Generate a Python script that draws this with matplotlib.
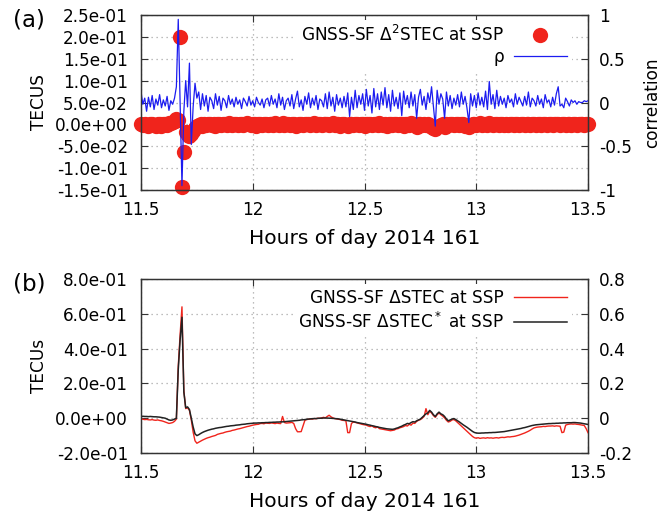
import numpy as np
import matplotlib
matplotlib.use("Agg")
import matplotlib.pyplot as plt
from matplotlib.lines import Line2D

# 30 s samples, 11.5 h .. 13.5 h
hours = np.round(11.5 + np.arange(241) / 120.0, 4)

# (a) second difference of STEC (TECU) and correlation rho
dd_stec = [
    0.000, -0.002, 0.001, -0.001, -0.003, 0.001, 0.000, -0.002, -0.004, 0.001,
    0.000, -0.003, 0.002, 0.000, -0.002, 0.003, 0.004, 0.006, 0.008, 0.012,
    0.010, 0.200, -0.142, -0.063, -0.018, -0.024, -0.026, -0.022, -0.015, -0.008,
    -0.004, -0.002, 0.000, -0.003, 0.001, -0.002, 0.000, 0.002, -0.001, 0.000,
    -0.003, 0.001, 0.000, -0.002, 0.002, 0.000, -0.001, 0.003, 0.000, -0.002,
    0.001, 0.000, -0.002, 0.002, 0.000, -0.001, 0.001, 0.003, 0.000, -0.002,
    0.000, 0.001, -0.003, 0.000, 0.002, -0.001, 0.000, 0.002, -0.002, 0.000,
    0.001, -0.001, 0.003, 0.000, -0.002, 0.001, 0.004, -0.002, 0.000, 0.001,
    -0.002, 0.000, 0.002, -0.003, -0.001, 0.001, 0.000, -0.002, 0.002, 0.000,
    0.001, -0.002, 0.000, 0.003, -0.001, 0.000, 0.002, -0.002, 0.001, 0.000,
    0.002, -0.001, 0.000, 0.003, -0.002, 0.000, 0.001, -0.003, 0.000, 0.002,
    -0.002, -0.004, 0.001, 0.000, -0.002, 0.002, 0.000, -0.001, 0.002, 0.000,
    -0.003, 0.001, 0.000, 0.002, -0.002, 0.000, 0.001, -0.002, 0.003, 0.000,
    -0.001, 0.002, -0.003, 0.000, 0.002, -0.002, 0.000, 0.001, -0.002, 0.000,
    0.002, -0.004, 0.000, 0.001, -0.002, 0.003, 0.000, -0.002, -0.005, 0.001,
    0.000, -0.002, 0.002, -0.001, 0.000, -0.003, -0.006, -0.009, -0.010, -0.007,
    -0.004, -0.002, 0.000, -0.005, 0.001, -0.002, 0.000, 0.002, -0.001, 0.000,
    0.001, -0.002, 0.000, 0.002, -0.003, -0.004, -0.006, -0.002, 0.000, 0.001,
    -0.002, 0.000, 0.003, -0.001, 0.000, 0.002, -0.002, 0.003, 0.000, -0.001,
    0.001, 0.000, -0.002, 0.002, 0.000, -0.001, 0.001, -0.002, 0.000, 0.002,
    -0.001, 0.000, 0.002, -0.002, 0.000, 0.001, -0.001, 0.002, 0.000, -0.002,
    0.001, 0.000, -0.002, 0.002, 0.000, -0.001, 0.002, 0.000, -0.001, 0.001,
    0.000, -0.002, 0.001, 0.000, 0.002, -0.002, 0.000, 0.001, -0.001, 0.000,
    0.002, -0.001, 0.000, 0.001, -0.002, 0.000, 0.001, 0.000, -0.001, 0.000, 0.000,
]

rho = [
    0.12, -0.02, 0.05, -0.10, 0.06, -0.05, 0.08, -0.08, 0.04, -0.03,
    0.09, -0.06, 0.03, -0.04, 0.07, -0.09, 0.02, -0.02, 0.05, 0.18,
    0.95, 0.00, -0.95, -0.10, 0.25, -0.05, 0.45, -0.48, -0.05, 0.22,
    0.05, 0.12, -0.08, 0.10, -0.04, 0.08, -0.10, 0.06, 0.02, -0.07,
    0.10, -0.03, 0.07, -0.09, 0.05, 0.02, -0.06, 0.08, -0.02, 0.04,
    -0.05, 0.06, -0.02, 0.03, -0.07, 0.05, 0.01, -0.04, 0.07, -0.03,
    0.02, -0.05, 0.06, 0.00, -0.03, 0.04, -0.06, 0.03, 0.05, -0.04,
    0.08, -0.02, 0.04, -0.06, 0.10, -0.03, 0.06, -0.08, 0.02, 0.05,
    -0.04, 0.09, -0.07, 0.04, 0.13, -0.05, 0.03, -0.09, 0.07, -0.02,
    0.11, -0.06, 0.05, -0.03, 0.08, -0.08, 0.04, 0.02, -0.05, 0.10,
    -0.07, 0.12, -0.04, 0.06, -0.10, 0.09, -0.03, 0.05, -0.06, 0.07,
    -0.05, 0.11, -0.16, 0.06, -0.08, 0.14, -0.06, 0.08, -0.02, 0.10,
    -0.09, 0.15, -0.04, 0.08, -0.12, 0.16, -0.05, 0.10, -0.08, 0.12,
    -0.03, 0.17, -0.06, 0.09, -0.10, 0.14, -0.04, 0.06, -0.07, 0.11,
    -0.15, 0.13, -0.02, 0.08, -0.06, 0.12, -0.04, 0.09, -0.18, 0.06,
    0.15, -0.03, 0.07, -0.08, 0.11, 0.00, 0.18, -0.05, -0.27, 0.14,
    -0.02, 0.10, 0.04, -0.18, 0.12, -0.04, 0.08, -0.07, 0.05, -0.03,
    0.09, -0.05, 0.12, -0.02, 0.07, -0.06, -0.23, 0.10, -0.04, 0.08,
    -0.06, 0.11, -0.03, 0.06, -0.05, 0.13, -0.08, 0.24, -0.02, 0.09,
    -0.07, 0.14, -0.04, 0.07, -0.02, 0.05, -0.06, 0.08, 0.00, 0.04,
    -0.05, 0.10, -0.02, 0.06, 0.01, -0.04, 0.07, -0.03, 0.12, -0.05,
    0.05, 0.02, -0.04, 0.08, -0.02, 0.04, -0.06, 0.09, 0.00, 0.03,
    -0.05, 0.06, -0.03, 0.10, 0.18, -0.04, -0.02, -0.06, 0.05, 0.01,
    -0.04, 0.03, 0.00, 0.02, -0.02, 0.01, 0.00, 0.00, 0.02, 0.01, 0.02,
]

# (b) STEC variation, raw and corrected (TECU)
d_stec = [
    -0.005, -0.006, -0.008, -0.007, -0.009, -0.010, -0.008, -0.011, -0.012, -0.010,
    -0.013, -0.015, -0.018, -0.022, -0.026, -0.030, -0.028, -0.025, -0.018, -0.005,
    0.30, 0.48, 0.64, 0.16, 0.055, 0.060, 0.045, -0.010, -0.080, -0.130,
    -0.144, -0.138, -0.132, -0.126, -0.121, -0.116, -0.112, -0.109, -0.105, -0.102,
    -0.099, -0.093, -0.090, -0.087, -0.085, -0.081, -0.078, -0.076, -0.074, -0.070,
    -0.068, -0.065, -0.062, -0.060, -0.057, -0.054, -0.051, -0.048, -0.046, -0.043,
    -0.040, -0.038, -0.036, -0.035, -0.031, -0.030, -0.032, -0.028, -0.029, -0.030,
    -0.027, -0.029, -0.031, -0.028, -0.030, -0.031, 0.010, -0.025, -0.028, -0.027,
    -0.026, -0.024, -0.030, -0.060, -0.078, -0.078, -0.077, -0.045, -0.012, -0.008,
    -0.006, -0.004, -0.005, -0.002, -0.003, 0.000, -0.001, 0.002, 0.005, 0.002,
    0.010, 0.017, 0.008, 0.002, -0.002, -0.004, -0.006, -0.008, -0.012, -0.013,
    -0.015, -0.083, -0.083, -0.030, -0.022, -0.024, -0.027, -0.030, -0.033, -0.036,
    -0.038, -0.040, -0.045, -0.048, -0.043, -0.052, -0.055, -0.050, -0.060, -0.062,
    -0.064, -0.066, -0.068, -0.070, -0.072, -0.070, -0.068, -0.062, -0.060, -0.055,
    -0.052, -0.048, -0.042, -0.045, -0.035, -0.040, -0.028, -0.030, -0.018, -0.012,
    -0.008, 0.000, 0.010, 0.055, 0.020, 0.040, 0.030, 0.015, 0.005, 0.020,
    0.030, 0.020, 0.012, 0.002, -0.012, -0.022, -0.018, -0.010, -0.008, -0.015,
    -0.025, -0.035, -0.045, -0.055, -0.065, -0.075, -0.085, -0.095, -0.105, -0.112,
    -0.115, -0.112, -0.116, -0.114, -0.113, -0.115, -0.112, -0.114, -0.113, -0.115,
    -0.113, -0.112, -0.114, -0.111, -0.110, -0.111, -0.109, -0.107, -0.108, -0.106,
    -0.105, -0.103, -0.100, -0.097, -0.093, -0.089, -0.085, -0.080, -0.075, -0.069,
    -0.062, -0.056, -0.053, -0.051, -0.050, -0.049, -0.047, -0.048, -0.046, -0.045,
    -0.045, -0.044, -0.046, -0.044, -0.045, -0.046, -0.083, -0.080, -0.040, -0.036,
    -0.034, -0.033, -0.034, -0.033, -0.035, -0.036, -0.038, -0.040, -0.042, -0.060, -0.083,
]

d_stec_corr = [
    0.010, 0.011, 0.010, 0.010, 0.009, 0.010, 0.009, 0.008, 0.008, 0.007,
    0.006, 0.004, 0.002, 0.000, -0.005, -0.010, -0.012, -0.010, -0.005, 0.000,
    0.28, 0.45, 0.58, 0.15, 0.060, 0.065, 0.050, 0.000, -0.050, -0.090,
    -0.100, -0.095, -0.088, -0.082, -0.077, -0.073, -0.069, -0.066, -0.063, -0.061,
    -0.058, -0.056, -0.054, -0.053, -0.051, -0.049, -0.047, -0.046, -0.044, -0.043,
    -0.042, -0.040, -0.039, -0.038, -0.036, -0.035, -0.034, -0.032, -0.031, -0.030,
    -0.029, -0.028, -0.028, -0.027, -0.027, -0.026, -0.026, -0.025, -0.025, -0.024,
    -0.024, -0.023, -0.023, -0.022, -0.022, -0.021, -0.021, -0.020, -0.019, -0.018,
    -0.017, -0.016, -0.015, -0.014, -0.013, -0.012, -0.010, -0.009, -0.008, -0.006,
    -0.005, -0.004, -0.003, -0.002, -0.002, -0.001, 0.000, 0.000, 0.001, 0.001,
    0.001, 0.000, 0.000, -0.001, -0.002, -0.003, -0.004, -0.006, -0.008, -0.010,
    -0.012, -0.014, -0.016, -0.018, -0.020, -0.022, -0.025, -0.027, -0.029, -0.031,
    -0.033, -0.035, -0.038, -0.040, -0.043, -0.045, -0.048, -0.050, -0.053, -0.055,
    -0.057, -0.059, -0.061, -0.062, -0.063, -0.064, -0.062, -0.058, -0.055, -0.050,
    -0.046, -0.040, -0.036, -0.030, -0.032, -0.025, -0.020, -0.022, -0.015, -0.010,
    -0.005, 0.005, 0.015, 0.025, 0.030, 0.045, 0.035, 0.020, 0.010, 0.025,
    0.035, 0.025, 0.020, 0.010, -0.005, -0.015, -0.010, -0.005, -0.002, -0.008,
    -0.015, -0.022, -0.030, -0.038, -0.045, -0.052, -0.060, -0.068, -0.076, -0.082,
    -0.085, -0.086, -0.086, -0.085, -0.085, -0.084, -0.084, -0.083, -0.083, -0.082,
    -0.082, -0.081, -0.080, -0.079, -0.078, -0.077, -0.075, -0.073, -0.071, -0.069,
    -0.067, -0.065, -0.063, -0.061, -0.059, -0.056, -0.054, -0.051, -0.048, -0.045,
    -0.042, -0.040, -0.038, -0.037, -0.036, -0.035, -0.034, -0.033, -0.032, -0.031,
    -0.031, -0.030, -0.030, -0.029, -0.029, -0.028, -0.028, -0.027, -0.027, -0.026,
    -0.026, -0.026, -0.025, -0.025, -0.026, -0.027, -0.028, -0.030, -0.032, -0.034, -0.036,
]

for s in (dd_stec, rho, d_stec, d_stec_corr):
    assert len(s) == len(hours), len(s)

x_ticks = [11.5, 12, 12.5, 13, 13.5]
x_labels = ["11.5", "12", "12.5", "13", "13.5"]
a_left_ticks = [-0.15, -0.10, -0.05, 0.0, 0.05, 0.10, 0.15, 0.20, 0.25]
a_left_labels = ["-1.5e-01", "-1.0e-01", "-5.0e-02", "0.0e+00", "5.0e-02",
                 "1.0e-01", "1.5e-01", "2.0e-01", "2.5e-01"]
a_right_ticks = [-1, -0.5, 0, 0.5, 1]
a_right_labels = ["-1", "-0.5", "0", "0.5", "1"]
b_left_ticks = [-0.2, 0.0, 0.2, 0.4, 0.6, 0.8]
b_left_labels = ["-2.0e-01", "0.0e+00", "2.0e-01", "4.0e-01", "6.0e-01", "8.0e-01"]
b_right_labels = ["-0.2", "0", "0.2", "0.4", "0.6", "0.8"]

RED = "#f0241c"
BLUE = "#1c1cf0"
FS = 12.2
EDGE = "#333333"

fig = plt.figure(figsize=(6.7, 5.21), dpi=100)
ax1 = fig.add_axes([141 / 670, 1 - 190 / 521, 447 / 670, 175 / 521])
ax3 = fig.add_axes([141 / 670, 1 - 453 / 521, 447 / 670, 174 / 521])


def style(ax, yt, yl):
    ax.set_xlim(11.5, 13.5)
    ax.set_xticks(x_ticks)
    ax.set_xticklabels(x_labels)
    ax.set_yticks(yt)
    ax.set_yticklabels(yl)
    ax.grid(True, color="#a8a8a8", linestyle=(0, (1, 3)), linewidth=0.9)
    ax.tick_params(direction="in", length=5, top=True, right=False, color=EDGE,
                   labelsize=FS)
    ax.tick_params(axis="x", pad=8)
    ax.tick_params(axis="y", pad=9.4)
    ax.set_xlabel("Hours of day 2014 161", fontsize=14.5, labelpad=7)
    for sp in ax.spines.values():
        sp.set_color(EDGE)
        sp.set_linewidth(1.0)


def right_axis(ax):
    ax.tick_params(direction="in", length=5, labelsize=FS, pad=8, color=EDGE)
    for sp in ax.spines.values():
        sp.set_color(EDGE)


# panel (a)
ax1.plot(hours, dd_stec, "o", color=RED, markersize=11, markeredgewidth=0,
         clip_on=False)
ax1.set_ylim(-0.15, 0.25)
style(ax1, a_left_ticks, a_left_labels)
ax1.set_ylabel("TECUS", fontsize=FS, labelpad=5)

ax2 = ax1.twinx()
ax2.plot(hours, rho, color=BLUE, linewidth=0.9)
ax2.set_ylim(-1, 1)
ax2.set_yticks(a_right_ticks)
ax2.set_yticklabels(a_right_labels)
right_axis(ax2)
ax2.set_ylabel("correlation", fontsize=FS, labelpad=8)

h_a = [Line2D([], [], marker="o", linestyle="none", color=RED, markersize=11,
              markeredgewidth=0),
       Line2D([], [], color=BLUE, linewidth=0.9)]
ax2.legend(h_a, ["GNSS-SF Δ$^2$STEC at SSP", "ρ"], loc="upper right",
           bbox_to_anchor=(0.975, 1.0), markerfirst=False, fontsize=FS,
           frameon=True, fancybox=False, framealpha=1, edgecolor="none",
           handlelength=3.1, handletextpad=0.6, labelspacing=0.15,
           borderaxespad=0.3, borderpad=0.3)

# panel (b)
ax3.plot(hours, d_stec, color=RED, linewidth=1.0, zorder=3)
ax3.plot(hours, d_stec_corr, color="#222222", linewidth=1.1, zorder=3)
ax3.set_ylim(-0.2, 0.8)
style(ax3, b_left_ticks, b_left_labels)
ax3.set_ylabel("TECUs", fontsize=FS, labelpad=5)

ax4 = ax3.twinx()
ax4.set_ylim(-0.2, 0.8)
ax4.set_yticks(b_left_ticks)
ax4.set_yticklabels(b_right_labels)
right_axis(ax4)

h_b = [Line2D([], [], color=RED, linewidth=1.0),
       Line2D([], [], color="#222222", linewidth=1.1)]
ax4.legend(h_b, ["GNSS-SF ΔSTEC at SSP", "GNSS-SF ΔSTEC$^*$ at SSP"],
           loc="upper right", bbox_to_anchor=(0.975, 1.0), markerfirst=False,
           fontsize=FS, frameon=True, fancybox=False, framealpha=1,
           edgecolor="none", handlelength=3.1, handletextpad=0.6,
           labelspacing=0.3, borderaxespad=0.3, borderpad=0.3)

fig.text(13 / 670, 1 - 20 / 521, "(a)", fontsize=16.5, va="center", ha="left")
fig.text(13 / 670, 1 - 284 / 521, "(b)", fontsize=16.5, va="center", ha="left")

fig.savefig("out.png", dpi=100)
